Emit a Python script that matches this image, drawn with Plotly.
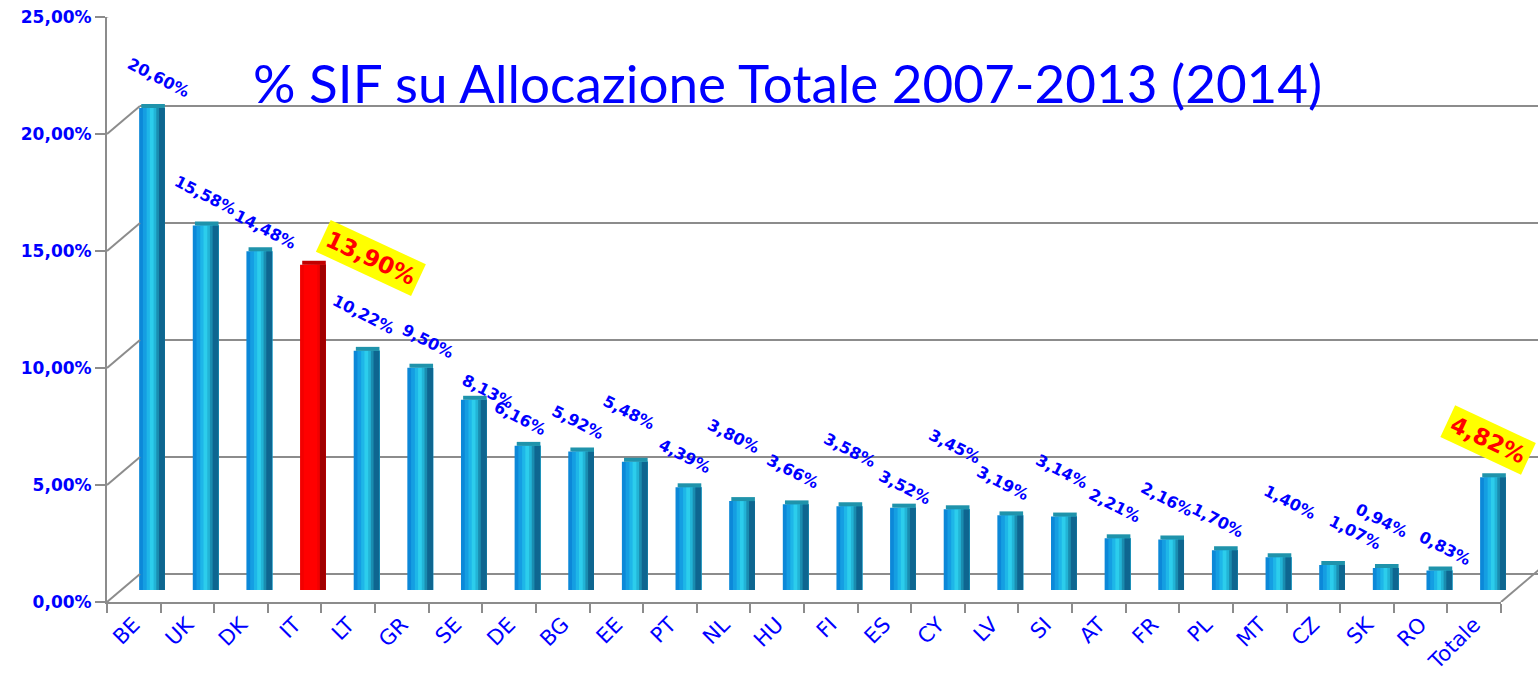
import plotly.graph_objects as go

# ---------------- data ----------------
categories = ["BE", "UK", "DK", "IT", "LT", "GR", "SE", "DE", "BG", "EE", "PT", "NL", "HU",
              "FI", "ES", "CY", "LV", "SI", "AT", "FR", "PL", "MT", "CZ", "SK", "RO", "Totale"]
values = [20.60, 15.58, 14.48, 13.90, 10.22, 9.50, 8.13, 6.16, 5.92, 5.48, 4.39, 3.80, 3.66,
          3.58, 3.52, 3.45, 3.19, 3.14, 2.21, 2.16, 1.70, 1.40, 1.07, 0.94, 0.83, 4.82]
highlight_red = ["IT"]                 # bar drawn in red
highlight_label = ["IT", "Totale"]     # labels in yellow boxes
y_ticks = [0, 5, 10, 15, 20, 25]
y_tick_text = ["0,00%", "5,00%", "10,00%", "15,00%", "20,00%", "25,00%"]
title_text = "% SIF su Allocazione Totale 2007-2013 (2014)"

# label placement (pixel nudges, layout only)
label_dx = [6, 0, 6, 58, -3, 8, 14, -7, -3, -6, -3, -8, -3, 1, 2, -2, -7, -2, -3, -4, -7, 12, 23, -4, 6, -5]
label_lift = [30, 30, 22, 7, 36, 26, 8, 27, 29, 49, 31, 65, 33, 56, 20, 63, 32, 45, 33, 40, 30, 55, 32, 48, 22, 37]

W, H = 1538, 677
def px_x(p): return p / W
def px_y(p): return 1 - p / H

BLUE = "#0000FF"
GRAY = "#8C8C8C"
N = len(categories)
RIGHT = 0.24

def fmt(v):
    return f"{v:.2f}".replace(".", ",") + "%"

fig = go.Figure()

# ---- back wall gridlines (invisible helper trace) ----
fig.add_trace(go.Scatter(x=[0, 1], y=[0, 0], xaxis="x2", yaxis="y2", mode="markers",
                         marker=dict(opacity=0), hoverinfo="skip", showlegend=False))

# ---- 3D-looking bars: overlapping layers (each runs to the right edge) ----
def colors(normal, red):
    return [red if c in highlight_red else normal for c in categories]

layers = [
    (-0.24, colors("#0C88D8", "#F20000")),
    (-0.17, colors("#159EE2", "#FF0000")),
    (-0.10, colors("#1EB6E8", "#FF0000")),
    (-0.04, colors("#2CCDEC", "#FF0000")),
    (0.03, colors("#22B4D6", "#FF0000")),
    (0.08, colors("#1A8DB0", "#F00000")),
    (0.13, colors("#0E6690", "#A00000")),
]
for off, col in layers:
    fig.add_trace(go.Bar(x=categories, y=values, xaxis="x3", yaxis="y3",
                         offset=off, width=RIGHT - off, marker=dict(color=col, line=dict(width=0)),
                         hoverinfo="skip", showlegend=False))
# top face
fig.add_trace(go.Bar(x=categories, y=[0.17] * N, base=values, xaxis="x3", yaxis="y3",
                     offset=-0.20, width=0.44,
                     marker=dict(color=colors("#1F93AB", "#C00000"), line=dict(width=0)),
                     hoverinfo="skip", showlegend=False))

# ---- front axis dummy trace ----
fig.add_trace(go.Scatter(x=categories, y=[0] * N, xaxis="x", yaxis="y",
                         mode="markers", marker=dict(opacity=0), hoverinfo="skip", showlegend=False))

# ---- value labels ----
annotations = []
for c, v, dx, lift in zip(categories, values, label_dx, label_lift):
    if c in highlight_label:
        annotations.append(dict(x=c, y=v, xref="x3", yref="y3", text=fmt(v), showarrow=False,
                                xshift=dx, yshift=lift, textangle=25,
                                font=dict(family="DejaVu Sans", size=23, color="#FF0000", weight="bold"),
                                bgcolor="#FFFF00", borderpad=4))
    else:
        annotations.append(dict(x=c, y=v, xref="x3", yref="y3", text=fmt(v), showarrow=False,
                                xshift=dx, yshift=lift, textangle=27,
                                font=dict(family="DejaVu Sans", size=16, color=BLUE, weight="bold")))

annotations.append(dict(x=px_x(788), y=px_y(82), xref="paper", yref="paper", text=title_text,
                        showarrow=False, xanchor="center", yanchor="middle",
                        font=dict(family="Lato", size=53, color=BLUE)))

# ---- perspective diagonals ----
shapes = []
for v in y_ticks:
    shapes.append(dict(type="line", xref="paper", yref="y", xsizemode="pixel", ysizemode="pixel",
                       xanchor=px_x(107), yanchor=v, x0=0, x1=33, y0=0, y1=28,
                       line=dict(color=GRAY, width=2)))
shapes.append(dict(type="line", xref="paper", yref="y", xsizemode="pixel", ysizemode="pixel",
                   xanchor=px_x(1501), yanchor=0, x0=0, x1=40, y0=0, y1=34,
                   line=dict(color=GRAY, width=2)))

fig.update_layout(
    width=W, height=H, autosize=False,
    margin=dict(l=0, r=0, t=0, b=0, pad=0),
    paper_bgcolor="white", plot_bgcolor="rgba(0,0,0,0)",
    barmode="overlay", showlegend=False,
    annotations=annotations, shapes=shapes,
    xaxis=dict(domain=[px_x(107), px_x(1501)], anchor="y", type="category",
               categoryorder="array", categoryarray=categories, range=[-0.5, N - 0.5],
               tickangle=-45, ticks="outside", tickson="boundaries", ticklen=9,
               tickcolor=GRAY, tickwidth=2, showline=True, linecolor=GRAY, linewidth=2,
               showgrid=False, zeroline=False, automargin=False,
               tickfont=dict(family="DejaVu Sans", size=21, color=BLUE)),
    yaxis=dict(domain=[px_y(602), px_y(17)], range=[0, 25], anchor="x",
               tickmode="array", tickvals=y_ticks, ticktext=y_tick_text,
               ticks="outside", ticklen=10, tickcolor=GRAY, tickwidth=2,
               showline=True, linecolor=GRAY, linewidth=2, showgrid=False, zeroline=False,
               automargin=False,
               tickfont=dict(family="DejaVu Sans", size=17, color=BLUE, weight="bold")),
    xaxis2=dict(domain=[px_x(140), 1], anchor="y2", range=[0, 1], visible=False),
    yaxis2=dict(domain=[px_y(576), 1], anchor="x2", range=[-2 / 23.4, 574 / 23.4],
                tickvals=y_ticks, showticklabels=False, ticks="", showgrid=True,
                gridcolor=GRAY, gridwidth=2, zeroline=False, showline=False),
    xaxis3=dict(domain=[px_x(125.2), px_x(1519.8)], anchor="y3", type="category",
                categoryorder="array", categoryarray=categories, range=[-0.5, N - 0.5],
                visible=False),
    yaxis3=dict(domain=[px_y(590), px_y(5)], anchor="x3", range=[0, 25], visible=False),
)

fig.write_html("out.html", config={"displayModeBar": False},
               post_script="document.body.style.margin='0';document.body.style.overflow='hidden';")
